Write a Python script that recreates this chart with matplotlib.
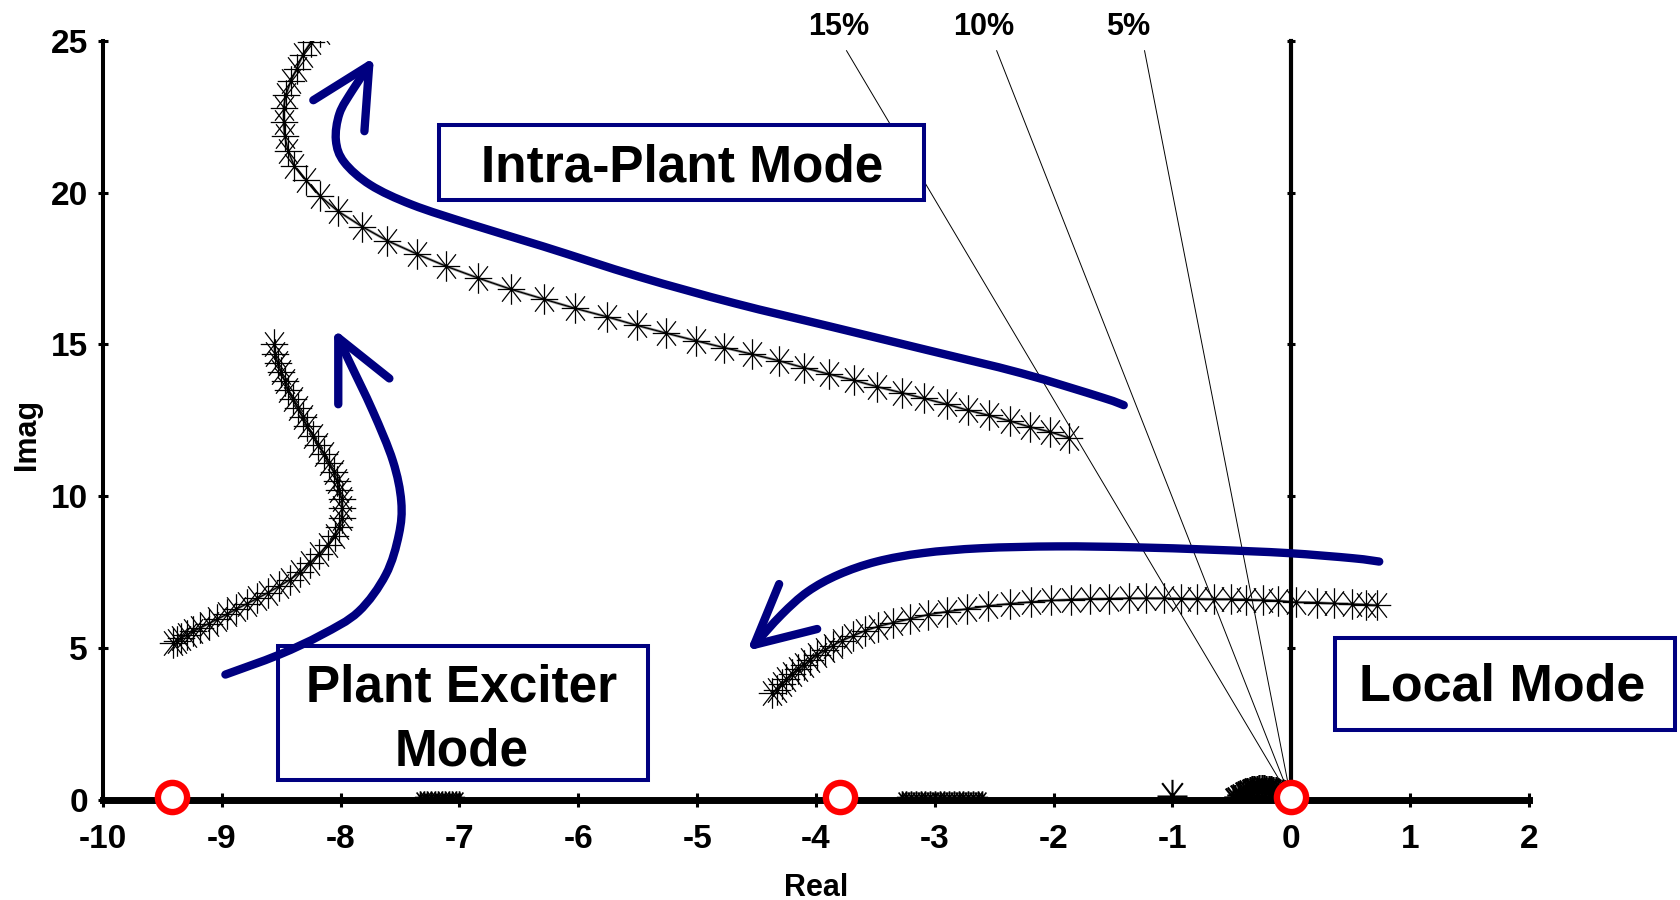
import numpy as np
import matplotlib
matplotlib.use("Agg")
import matplotlib.pyplot as plt
from matplotlib.path import Path
from matplotlib.patches import PathPatch, Rectangle

plt.rcParams['font.family'] = ['Liberation Sans', 'DejaVu Sans']
plt.rcParams['font.weight'] = 'bold'
plt.rcParams['axes.unicode_minus'] = False

NAVY = '#000080'

# root locus branches (real part, imaginary part)
intra_re = [-8.17, -8.25, -8.32, -8.37, -8.42, -8.46, -8.48, -8.48, -8.47, -8.44,
            -8.39, -8.29, -8.17, -8.02, -7.82, -7.61, -7.36, -7.11, -6.84, -6.57,
            -6.29, -6.03, -5.76, -5.51, -5.26, -5.01, -4.77, -4.54, -4.31, -4.10,
            -3.89, -3.68, -3.49, -3.28, -3.09, -2.90, -2.72, -2.54, -2.37, -2.20,
            -2.03, -1.87]
intra_im = [25.30, 24.96, 24.52, 24.08, 23.66, 23.22, 22.80, 22.32, 21.85, 21.36,
            20.87, 20.40, 19.87, 19.38, 18.88, 18.42, 17.98, 17.57, 17.18, 16.82,
            16.49, 16.19, 15.91, 15.63, 15.37, 15.12, 14.89, 14.68, 14.46, 14.23,
            14.02, 13.82, 13.61, 13.41, 13.22, 13.03, 12.83, 12.66, 12.48, 12.28,
            12.12, 11.92]

exciter_re = [-8.56, -8.55, -8.53, -8.50, -8.47, -8.44, -8.40, -8.36, -8.32, -8.28,
              -8.23, -8.19, -8.14, -8.10, -8.06, -8.03, -8.01, -7.99, -7.99, -7.99,
              -8.01, -8.05, -8.11, -8.18, -8.26, -8.34, -8.43, -8.52, -8.61, -8.70,
              -8.79, -8.88, -8.96, -9.04, -9.11, -9.18, -9.24, -9.29, -9.34, -9.38,
              -9.41]
exciter_im = [15.0, 14.7, 14.4, 14.1, 13.8, 13.5, 13.2, 12.9, 12.6, 12.3,
              12.0, 11.7, 11.4, 11.1, 10.8, 10.5, 10.2, 9.9, 9.6, 9.3,
              9.0, 8.7, 8.4, 8.1, 7.8, 7.5, 7.25, 7.03, 6.83, 6.64,
              6.46, 6.28, 6.11, 5.95, 5.81, 5.67, 5.55, 5.44, 5.34, 5.25,
              5.17]

local_re = [0.72, 0.63, 0.51, 0.36, 0.22, 0.04, -0.11, -0.24, -0.38, -0.51,
            -0.65, -0.79, -0.93, -1.07, -1.22, -1.37, -1.53, -1.69, -1.85, -2.02,
            -2.19, -2.37, -2.55, -2.73, -2.90, -3.06, -3.21, -3.35, -3.48, -3.59,
            -3.69, -3.78, -3.86, -3.92, -3.99, -4.05, -4.10, -4.15, -4.20, -4.25,
            -4.29, -4.33, -4.37]
local_im = [6.41, 6.43, 6.45, 6.47, 6.50, 6.51, 6.56, 6.58, 6.60, 6.61,
            6.61, 6.62, 6.63, 6.64, 6.64, 6.64, 6.63, 6.62, 6.60, 6.57,
            6.52, 6.46, 6.39, 6.29, 6.20, 6.10, 5.96, 5.84, 5.71, 5.57,
            5.40, 5.25, 5.08, 4.94, 4.78, 4.61, 4.45, 4.30, 4.14, 3.97,
            3.81, 3.62, 3.52]

# real-axis eigenvalues
axis_a_re = [-7.33, -7.30, -7.27, -7.24, -7.21, -7.18, -7.15, -7.12, -7.09, -7.06, -7.03, -7.00]
axis_a_im = [0.09] * 12
axis_b_re = [-3.28, -3.24, -3.20, -3.16, -3.12, -3.08, -3.04, -3.00, -2.96, -2.92,
             -2.88, -2.84, -2.80, -2.76, -2.72, -2.68, -2.64, -2.60]
axis_b_im = [0.09] * 18
near_re = [-0.49, -0.47, -0.45, -0.43, -0.41, -0.39, -0.37, -0.35, -0.33, -0.31,
           -0.29, -0.27, -0.25, -0.23, -0.21, -0.19, -0.17, -0.15, -0.13, -0.11]
near_im = [0.05, 0.10, 0.16, 0.21, 0.26, 0.30, 0.33, 0.36, 0.38, 0.40,
           0.41, 0.42, 0.42, 0.42, 0.41, 0.40, 0.39, 0.37, 0.35, 0.33]
single_re = [-1.0]
single_im = [0.12]

# zeros
zeros_re = [-9.42, -3.80, 0.0]
zeros_im = [0.1, 0.1, 0.1]

# constant damping ratio lines
damping = [0.15, 0.10, 0.05]
damping_labels = ["15%", "10%", "5%"]
damping_label_re = [-3.81, -2.59, -1.37]

# direction arrows: shaft points and arrowhead (arm, tip, arm)
arrow1_re = [-1.41, -1.59, -2.27, -3.07, -3.88, -4.68, -5.49, -6.29, -6.90, -7.40, -7.75, -7.97, -8.04, -8.01, -7.90, -7.76]
arrow1_im = [13.00, 13.25, 14.05, 14.82, 15.59, 16.35, 17.23, 18.22, 18.95, 19.60, 20.25, 21.00, 21.72, 22.60, 23.37, 24.19]
head1_re = [-8.23, -7.76, -7.80]
head1_im = [23.04, 24.19, 22.02]

arrow2_re = [-8.97, -8.52, -8.16, -7.85, -7.62, -7.51, -7.49, -7.56, -7.73, -7.93, -8.02]
arrow2_im = [4.13, 4.78, 5.44, 6.20, 7.42, 8.74, 9.83, 11.16, 12.81, 14.46, 15.22]
head2_re = [-8.02, -8.02, -7.59]
head2_im = [13.03, 15.22, 13.88]

arrow3_re = [0.74, 0.52, -0.03, -0.67, -1.32, -1.97, -2.61, -3.10, -3.49, -3.81, -4.07, -4.29, -4.52]
arrow3_im = [7.85, 7.96, 8.13, 8.24, 8.32, 8.35, 8.29, 8.13, 7.85, 7.42, 6.86, 6.10, 5.11]
head3_re = [-4.31, -4.52, -3.99]
head3_im = [7.11, 5.11, 5.63]


def asterisk():
    verts = [(0, -1), (0, 1), (-0.9, 0), (0.9, 0),
             (-0.62, -0.8), (0.62, 0.8), (-0.62, 0.8), (0.62, -0.8)]
    codes = [Path.MOVETO, Path.LINETO] * 4
    return Path(verts, codes)


def smooth(xs, ys):
    # Catmull-Rom through the points, written as cubic Bezier segments
    p = np.column_stack([xs, ys])
    q = np.vstack([p[0], p, p[-1]])
    verts = [p[0]]
    codes = [Path.MOVETO]
    for i in range(1, len(q) - 2):
        p0, p1, p2, p3 = q[i - 1], q[i], q[i + 1], q[i + 2]
        verts += [p1 + (p2 - p0) / 6, p2 - (p3 - p1) / 6, p2]
        codes += [Path.CURVE4] * 3
    return Path(verts, codes)


STAR = asterisk()

fig = plt.figure(figsize=(16.8, 9), dpi=100)
ax = fig.add_axes([0.0613, 0.1111, 0.8488, 0.8437])
ax.set_xlim(-10, 2)
ax.set_ylim(0, 25)

for side in ['top', 'right']:
    ax.spines[side].set_visible(False)
ax.spines['left'].set_linewidth(2.9)
ax.spines['bottom'].set_linewidth(5)
ax.spines['bottom'].set_zorder(4)

ax.set_xticks(range(-10, 3))
ax.set_yticks(range(0, 26, 5))
ax.tick_params(axis='x', direction='inout', length=10, width=2.2, pad=12, labelsize=24)
ax.tick_params(axis='y', direction='inout', length=7.7, width=2.2, pad=7, labelsize=24)

# imaginary axis through the origin
ax.plot([0, 0], [0, 25], color='black', lw=3, zorder=2.6, clip_on=False)
ax.plot([0] * 5, [5, 10, 15, 20, 25], ls='none', marker='_', ms=6, mew=2.2,
        color='black', zorder=2.6, clip_on=False)

# damping ratio lines from the origin
top = 24.67
for z, lab, lx in zip(damping, damping_labels, damping_label_re):
    x_end = -top * z / np.sqrt(1 - z ** 2)
    ax.plot([0, x_end], [0, top], color='black', lw=0.7, zorder=1, clip_on=False)
    ax.text(lx, 25.19, lab, ha='center', va='baseline', fontsize=22, clip_on=False)

# root locus branches
for re, im in [(intra_re, intra_im), (exciter_re, exciter_im), (local_re, local_im)]:
    ax.plot(re, im, color='0.6', lw=2.0, zorder=2)
    ax.plot(re, im, color='black', lw=0.9, marker=STAR, ms=22, mew=0.9,
            mfc='none', zorder=3)

ax.plot(axis_a_re, axis_a_im, ls='none', marker=STAR, ms=9, mew=1.2, color='black', zorder=3)
ax.plot(axis_b_re, axis_b_im, ls='none', marker=STAR, ms=9, mew=1.2, color='black', zorder=3)
ax.plot(near_re, near_im, color='black', lw=1.5, marker=STAR, ms=18, mew=1.6, zorder=3)
ax.plot(single_re, single_im, ls='none', marker=STAR, ms=24, mew=1.5, color='black', zorder=3)

# zeros
ax.plot(zeros_re, zeros_im, ls='none', marker='o', ms=21, mew=4.6, mec='red',
        mfc='white', zorder=6, clip_on=False)

# mode boxes
boxes = [
    ((-7.17, 19.76), 4.08, 2.47),
    ((0.37, 2.30), 2.86, 3.02),
    ((-8.53, 0.66), 3.12, 4.41),
]
for (x0, y0), w, h in boxes:
    ax.add_patch(Rectangle((x0, y0), w, h, fc='white', ec=NAVY, lw=2.9,
                           zorder=4.5, clip_on=False))

ax.text(-5.13, 20.36, "Intra-Plant Mode", ha='center', va='baseline',
        fontsize=37, zorder=6, clip_on=False)
ax.text(1.77, 3.29, "Local Mode", ha='center', va='baseline',
        fontsize=37.5, zorder=6, clip_on=False)
ax.text(-6.98, 3.23, "Plant Exciter", ha='center', va='baseline',
        fontsize=37, zorder=6, clip_on=False)
ax.text(-6.98, 1.15, "Mode", ha='center', va='baseline',
        fontsize=37, zorder=6, clip_on=False)

# arrows showing the direction of movement
for sx, sy, hx, hy in [(arrow1_re, arrow1_im, head1_re, head1_im),
                       (arrow2_re, arrow2_im, head2_re, head2_im),
                       (arrow3_re, arrow3_im, head3_re, head3_im)]:
    ax.add_patch(PathPatch(smooth(sx, sy), fill=False, ec=NAVY, lw=6,
                           capstyle='round', joinstyle='round', zorder=5, clip_on=False))
    ax.plot(hx, hy, color=NAVY, lw=6, solid_capstyle='round',
            solid_joinstyle='round', zorder=5, clip_on=False)

fig.text(0.4857, 0.005, "Real", ha='center', va='baseline', fontsize=22)
fig.text(0.016, 0.517, "Imag", ha='center', va='center', rotation=90, fontsize=22)

fig.savefig("out.png", dpi=100)
